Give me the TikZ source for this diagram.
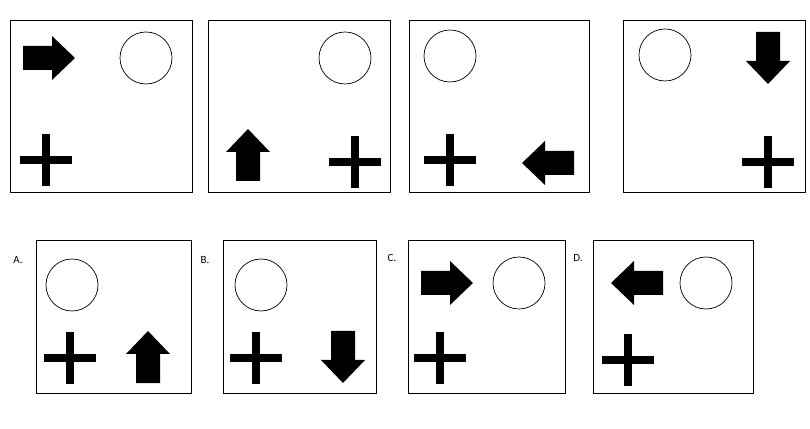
\documentclass[tikz,border=0pt]{standalone}
\usepackage{fontspec}
\setmainfont{Carlito}
\begin{document}
\begin{tikzpicture}[x=1pt,y=1pt,
  frame/.style={draw=black,line width=0.8pt},
  circ/.style={draw=black,line width=0.7pt},
  arr/.pic={\fill[black] (-26,-12)--(3,-12)--(3,-22)--(26,0)--(3,22)--(3,12)--(-26,12)--cycle;},
  plus/.pic={\fill[black] (-26,-4)rectangle(26,4); \fill[black] (-4,-26)rectangle(4,26);},
  lbl/.style={font=\fontsize{11}{13}\selectfont}]
\useasboundingbox (0,0) rectangle (810,428);
% top row
\draw[frame] (10,408) rectangle (192,236);
\draw[frame] (208,408) rectangle (390,236);
\draw[frame] (409,408) rectangle (589,236);
\draw[frame] (623,408) rectangle (805,236);
\pic at (49,370) {arr};
\draw[circ] (146,370) circle (26);
\pic at (46,268) {plus};
\draw[circ] (345,370) circle (26);
\pic[rotate=90] at (248,273) {arr};
\pic at (355,266) {plus};
\draw[circ] (450,372) circle (26);
\pic at (450,268) {plus};
\pic[rotate=180] at (548,265) {arr};
\draw[circ] (665,373) circle (26);
\pic[rotate=-90] at (768,370) {arr};
\pic at (768,266) {plus};
% bottom row
\node[lbl] (la) at (18,168) {A.};
\node[lbl] (lb) at (205,168) {B.};
\node[lbl] (lc) at (392,170) {C.};
\node[lbl] (ld) at (578,170) {D.};
\draw[frame] (36,188) rectangle (191,35);
\draw[frame] (223,188) rectangle (376,35);
\draw[frame] (408,188) rectangle (565,35);
\draw[frame] (593,188) rectangle (753,35);
\draw[circ] (72,143) circle (26);
\pic at (70,70) {plus};
\pic[rotate=90] at (148,71) {arr};
\draw[circ] (261,143) circle (26);
\pic at (256,70) {plus};
\pic[rotate=-90] at (343,71) {arr};
\pic at (447,145) {arr};
\draw[circ] (519,145) circle (26);
\pic at (440,70) {plus};
\pic[rotate=180] at (637,145) {arr};
\draw[circ] (706,145) circle (26);
\pic at (628,68) {plus};
\end{tikzpicture}
\end{document}
